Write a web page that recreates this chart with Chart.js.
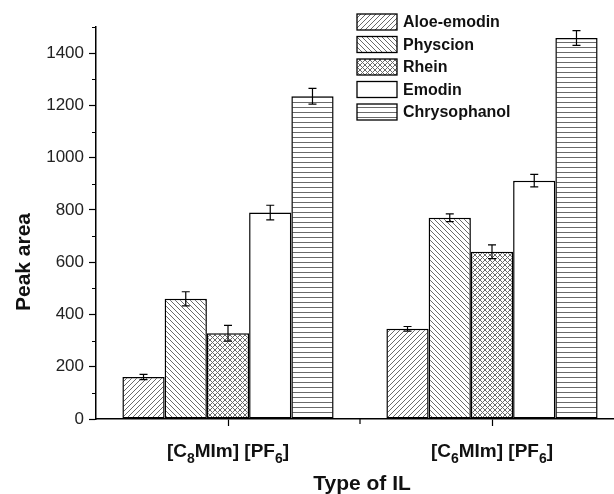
<!DOCTYPE html>
<html>
<head>
<meta charset="utf-8">
<script src="https://cdn.jsdelivr.net/npm/chart.js@4/dist/chart.umd.min.js"></script>
<style>
  html, body { margin: 0; padding: 0; background: #fff; overflow: hidden; }
  #wrap { width: 626px; height: 494px; }
</style>
</head>
<body>
<div id="wrap"><canvas id="ilChart" width="626" height="494"></canvas></div>
<script>
// --- Data ---
const categories = ['[C₈MIm] [PF₆]', '[C₆MIm] [PF₆]'];
const compounds = ['Aloe-emodin', 'Physcion', 'Rhein', 'Emodin', 'Chrysophanol'];
const aloeEmodin = [161, 345];
const physcion = [460, 770];
const rhein = [328, 640];
const emodin = [790, 912];
const chrysophanol = [1235, 1458];
const aloeEmodinErr = [10, 9];
const physcionErr = [27, 15];
const rheinErr = [30, 26];
const emodinErr = [28, 24];
const chrysophanolErr = [30, 28];
const yTicks = [0, 200, 400, 600, 800, 1000, 1200, 1400];

const seriesValues = [aloeEmodin, physcion, rhein, emodin, chrysophanol];
const seriesErrors = [aloeEmodinErr, physcionErr, rheinErr, emodinErr, chrysophanolErr];

// --- Hatch patterns ---
function makePattern(kind) {
    const p = 5;
    const c = document.createElement('canvas');
    c.width = p; c.height = p;
    const g = c.getContext('2d');
    g.fillStyle = '#fff';
    g.fillRect(0, 0, p, p);
    if (kind === 'none') return g.createPattern(c, 'repeat');
    g.strokeStyle = '#6a6a6a';
    g.lineWidth = 1;
    const fwd = () => {
        g.beginPath();
        g.moveTo(-1, p + 1); g.lineTo(p + 1, -1);
        g.moveTo(-1, 1); g.lineTo(1, -1);
        g.moveTo(p - 1, p + 1); g.lineTo(p + 1, p - 1);
        g.stroke();
    };
    const back = () => {
        g.beginPath();
        g.moveTo(-1, -1); g.lineTo(p + 1, p + 1);
        g.moveTo(p - 1, -1); g.lineTo(p + 1, 1);
        g.moveTo(-1, p - 1); g.lineTo(1, p + 1);
        g.stroke();
    };
    if (kind === 'fwd') fwd();
    if (kind === 'back') back();
    if (kind === 'cross') { fwd(); back(); }
    if (kind === 'horiz') {
        g.beginPath();
        g.moveTo(0, 2.5); g.lineTo(p, 2.5);
        g.stroke();
    }
    return g.createPattern(c, 'repeat');
}
const fills = ['fwd', 'back', 'cross', 'none', 'horiz'].map(makePattern);

// --- Error bars, minor ticks, axis titles, subscript labels, legend ---
const extrasPlugin = {
    id: 'extras',
    afterDatasetsDraw(chart) {
        const ctx = chart.ctx;
        const y = chart.scales.y;
        ctx.save();
        ctx.strokeStyle = '#000';
        ctx.lineWidth = 1.2;
        chart.data.datasets.forEach((ds, di) => {
            const meta = chart.getDatasetMeta(di);
            meta.data.forEach((bar, i) => {
                const v = ds.data[i];
                const e = seriesErrors[di][i];
                const top = y.getPixelForValue(v + e);
                const bot = y.getPixelForValue(v - e);
                ctx.beginPath();
                ctx.moveTo(bar.x, top); ctx.lineTo(bar.x, bot);
                ctx.moveTo(bar.x - 4, top); ctx.lineTo(bar.x + 4, top);
                ctx.moveTo(bar.x - 4, bot); ctx.lineTo(bar.x + 4, bot);
                ctx.stroke();
            });
        });
        ctx.restore();
    },
    afterDraw(chart) {
        const ctx = chart.ctx;
        const x = chart.scales.x;
        const y = chart.scales.y;
        const area = chart.chartArea;
        ctx.save();
        ctx.strokeStyle = '#000';
        ctx.lineWidth = 1.2;

        // short minor ticks on y (every 100 between labelled ones)
        ctx.beginPath();
        y.ticks.forEach(t => {
            if (yTicks.includes(t.value)) return;
            const py = Math.round(y.getPixelForValue(t.value)) + 0.5;
            ctx.moveTo(area.left, py); ctx.lineTo(area.left - 4, py);
        });
        // short tick between the two categories
        const mid = (x.getPixelForValue(0) + x.getPixelForValue(1)) / 2;
        ctx.moveTo(mid, area.bottom); ctx.lineTo(mid, area.bottom + 5);
        ctx.stroke();

        // category labels with subscripts
        ctx.fillStyle = '#111';
        ctx.textBaseline = 'alphabetic';
        const subs = '₀₁₂₃₄₅₆₇₈₉';
        categories.forEach((label, i) => {
            const parts = [];
            for (const ch of label) {
                const s = subs.indexOf(ch) >= 0;
                const t = s ? String(subs.indexOf(ch)) : ch;
                if (parts.length && parts[parts.length - 1].sub === s) parts[parts.length - 1].text += t;
                else parts.push({ text: t, sub: s });
            }
            const big = 'bold 19px "Liberation Sans", Arial, sans-serif';
            const small = 'bold 14px "Liberation Sans", Arial, sans-serif';
            let w = 0;
            parts.forEach(p => { ctx.font = p.sub ? small : big; p.w = ctx.measureText(p.text).width; w += p.w; });
            let cx = x.getPixelForValue(i) - w / 2;
            const base = 457;
            parts.forEach(p => {
                ctx.font = p.sub ? small : big;
                ctx.textAlign = 'left';
                ctx.fillText(p.text, cx, p.sub ? base + 6 : base);
                cx += p.w;
            });
        });

        // axis titles
        ctx.font = 'bold 21px "Liberation Sans", Arial, sans-serif';
        ctx.textAlign = 'center';
        ctx.fillText('Type of IL', 362, 490);
        ctx.translate(30, 262);
        ctx.rotate(-Math.PI / 2);
        ctx.fillText('Peak area', 0, 0);
        ctx.setTransform(1, 0, 0, 1, 0, 0);

        // legend
        ctx.font = 'bold 16px "Liberation Sans", Arial, sans-serif';
        ctx.textAlign = 'left';
        ctx.textBaseline = 'middle';
        chart.data.datasets.forEach((ds, di) => {
            const cy = 22 + di * 22.5;
            ctx.fillStyle = ds.backgroundColor;
            ctx.fillRect(357, cy - 8, 40, 16);
            ctx.strokeStyle = '#000';
            ctx.lineWidth = 1.3;
            ctx.strokeRect(357, cy - 8, 40, 16);
            ctx.fillStyle = '#111';
            ctx.fillText(ds.label, 403, cy + 1);
        });
        ctx.restore();
    }
};

const ctx = document.getElementById('ilChart').getContext('2d');
new Chart(ctx, {
    type: 'bar',
    data: {
        labels: categories,
        datasets: compounds.map((name, i) => ({
            label: name,
            data: seriesValues[i],
            backgroundColor: fills[i],
            borderColor: '#000',
            borderWidth: 1.5,
            borderSkipped: false,
            categoryPercentage: 0.8,
            barPercentage: 1.0
        }))
    },
    options: {
        responsive: false,
        animation: false,
        events: [],
        layout: { padding: { top: 27, right: 2, left: 0, bottom: 0 } },
        plugins: {
            legend: { display: false },
            tooltip: { enabled: false },
            title: { display: false }
        },
        scales: {
            x: {
                offset: true,
                afterFit: s => { s.height = 75; },
                grid: { display: true, offset: false, drawOnChartArea: false, tickLength: 7, tickColor: '#000', tickWidth: 1.2 },
                border: { color: '#000', width: 1.5 },
                ticks: { display: false }
            },
            y: {
                min: 0,
                max: 1500,
                afterFit: s => { s.width = 96; },
                afterBuildTicks: s => {
                    const t = [];
                    for (let v = 0; v <= 1500; v += 100) t.push({ value: v });
                    s.ticks = t;
                },
                grid: {
                    display: true,
                    drawOnChartArea: false,
                    tickLength: 7,
                    tickWidth: 1.2,
                    tickColor: c => yTicks.includes(c.tick.value) ? '#000' : 'rgba(0,0,0,0)'
                },
                border: { color: '#000', width: 1.5 },
                ticks: {
                    padding: 5,
                    color: '#222',
                    font: { family: '"Liberation Sans", Arial, sans-serif', size: 17 },
                    callback: v => yTicks.includes(v) ? String(v) : ''
                }
            }
        }
    },
    plugins: [extrasPlugin]
});
</script>
</body>
</html>
